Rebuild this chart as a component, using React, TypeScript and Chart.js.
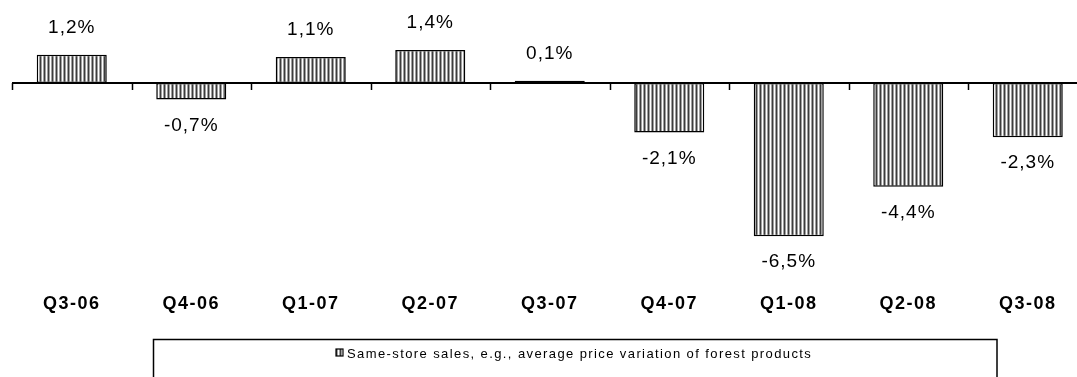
import React, { useEffect, useRef } from 'react';
import { Chart, registerables } from 'chart.js';

Chart.register(...registerables);

const categories = ['Q3-06', 'Q4-06', 'Q1-07', 'Q2-07', 'Q3-07', 'Q4-07', 'Q1-08', 'Q2-08', 'Q3-08'];
const sameStoreSales = [1.2, -0.7, 1.1, 1.4, 0.1, -2.1, -6.5, -4.4, -2.3];
const seriesLabel = 'Same-store sales, e.g., average price variation of forest products';
const yMin = -7.97;
const yMax = 3.52;

const FONT = '"Liberation Sans", Arial, sans-serif';

function makePattern(ctx: CanvasRenderingContext2D): CanvasPattern | string {
  const c = document.createElement('canvas');
  c.width = 4;
  c.height = 4;
  const p = c.getContext('2d');
  if (!p) return '#888';
  const cols = ['#3c3c3c', '#a0a0a0', '#ffffff', '#a0a0a0'];
  cols.forEach((col, i) => {
    p.fillStyle = col;
    p.fillRect(i, 0, 1, 4);
  });
  return ctx.createPattern(c, 'repeat') || '#888';
}

const fmt = (v: number) => v.toFixed(1).replace('.', ',') + '%';

const overlayPlugin = {
  id: 'overlay',
  beforeDraw(chart: any) {
    chart.ctx.letterSpacing = '1.5px';
  },
  afterDatasetsDraw(chart: any) {
    const { ctx, chartArea, scales } = chart;
    const x = scales.x;
    const y = scales.y;
    const y0 = y.getPixelForValue(0);
    ctx.save();
    ctx.strokeStyle = '#000';
    ctx.lineWidth = 2;
    ctx.beginPath();
    ctx.moveTo(chartArea.left, y0);
    ctx.lineTo(chartArea.right, y0);
    ctx.stroke();
    const step = x.getPixelForValue(1) - x.getPixelForValue(0);
    ctx.lineWidth = 1.5;
    for (let i = 0; i <= categories.length; i++) {
      const px = Math.round(x.getPixelForValue(0) - step / 2 + i * step) + 0.5;
      ctx.beginPath();
      ctx.moveTo(px, y0);
      ctx.lineTo(px, y0 + 7);
      ctx.stroke();
    }
    const meta = chart.getDatasetMeta(0);
    ctx.font = `19px ${FONT}`;
    ctx.letterSpacing = '1px';
    ctx.fillStyle = '#000';
    ctx.textAlign = 'center';
    ctx.textBaseline = 'alphabetic';
    meta.data.forEach((bar: any, i: number) => {
      const v = sameStoreSales[i];
      const yy = v >= 0 ? bar.y - 22 : bar.y + 31;
      ctx.fillText(fmt(v), bar.x, yy);
    });
    ctx.restore();
  },
  afterDraw(chart: any) {
    const { ctx } = chart;
    ctx.save();
    ctx.strokeStyle = '#000';
    ctx.lineWidth = 1.5;
    ctx.strokeRect(153.5, 339.5, 997 - 153.5, 80);
    ctx.fillStyle = makePattern(ctx);
    ctx.fillRect(336, 349, 7, 7);
    ctx.lineWidth = 1.2;
    ctx.strokeRect(336, 349, 7, 7);
    ctx.fillStyle = '#000';
    ctx.font = `13px ${FONT}`;
    ctx.letterSpacing = '1.4px';
    ctx.textAlign = 'left';
    ctx.textBaseline = 'middle';
    ctx.fillText(seriesLabel, 347, 354);
    ctx.restore();
  },
};

export default function App() {
  const ref = useRef<HTMLCanvasElement | null>(null);
  useEffect(() => {
    const canvas = ref.current;
    if (!canvas) return;
    const ctx = canvas.getContext('2d');
    if (!ctx) return;
    const pattern = makePattern(ctx);
    const chart = new Chart(canvas, {
      type: 'bar',
      data: {
        labels: categories,
        datasets: [
          {
            label: seriesLabel,
            data: sameStoreSales,
            backgroundColor: pattern as any,
            borderColor: '#000',
            borderWidth: 1.5,
            borderSkipped: false,
            categoryPercentage: 1,
            barPercentage: 0.586,
          },
        ],
      },
      options: {
        animation: false,
        responsive: true,
        maintainAspectRatio: false,
        events: [],
        layout: { padding: { left: 12, right: 0.5, top: 0, bottom: 40.4 } },
        plugins: {
          legend: { display: false },
          tooltip: { enabled: false },
        },
        scales: {
          x: {
            grid: { display: false, drawTicks: false },
            border: { display: false },
            ticks: {
              color: '#000',
              padding: 22,
              font: { family: FONT, size: 18, weight: 'bold' },
            },
          },
          y: {
            display: false,
            min: yMin,
            max: yMax,
          },
        },
      },
      plugins: [overlayPlugin],
    });
    return () => chart.destroy();
  }, []);
  return (
    <div
      style={{
        position: 'fixed',
        left: 0,
        top: 0,
        width: 1077,
        height: 377,
        overflow: 'hidden',
        background: '#fff',
      }}
    >
      <div style={{ position: 'relative', width: 1088, height: 377 }}>
        <canvas ref={ref} />
      </div>
    </div>
  );
}
